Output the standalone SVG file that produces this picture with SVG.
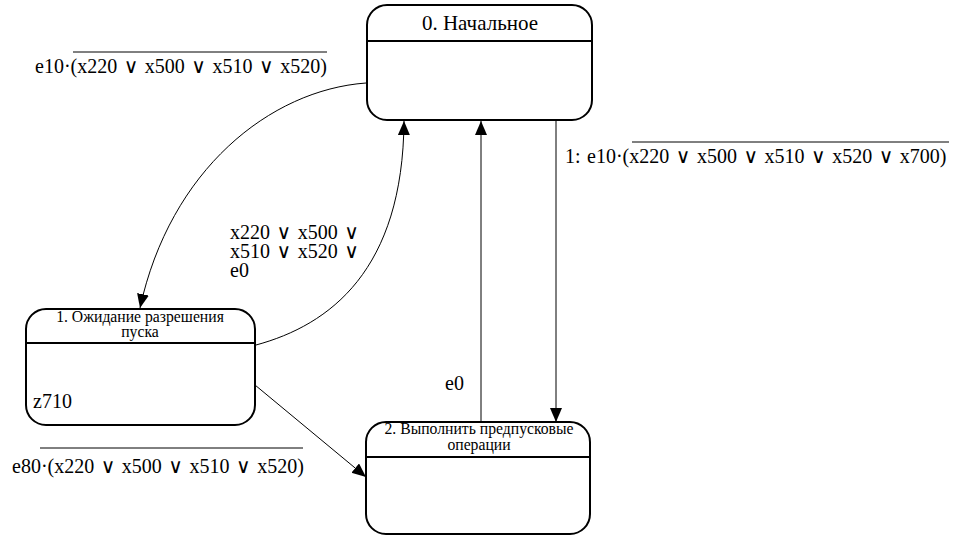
<svg xmlns="http://www.w3.org/2000/svg" width="957" height="536" viewBox="0 0 957 536">
  <defs>
    <marker id="arrow" markerUnits="userSpaceOnUse" markerWidth="15" markerHeight="13" refX="14" refY="6" orient="auto">
      <path d="M0,0 L14,6 L0,12 z" fill="#000"/>
    </marker>
    <style>
      .state { fill: #fff; stroke: #000; stroke-width: 2; }
      .divider { stroke: #000; stroke-width: 2; }
      text { font-family: "Liberation Serif", "Times New Roman", serif; fill: #000; }
      .title { font-size: 21px; text-anchor: middle; }
      .small { font-size: 15.7px; text-anchor: middle; }
      .label { font-size: 20px; word-spacing: 1.5px; }
      .or { font-family: "DejaVu Serif", serif; font-size: 20px; }
      .edge { fill: none; stroke: #000; stroke-width: 1; marker-end: url(#arrow); }
      .bar { stroke: #000; stroke-width: 1; }
    </style>
  </defs>

  <rect width="957" height="536" fill="#fff"/>

  <!-- transitions -->
  <g id="connectors">
    <path class="edge" d="M366,83 C270,90 170,170 140,308"/>
    <path class="edge" d="M256,345 C330,325 403,270 404,121"/>
    <path class="edge" d="M481,422 L481,121"/>
    <path class="edge" d="M556,121 L556,422"/>
    <path class="edge" d="M255,385 L366,477"/>

    <text class="label" x="35" y="73">e10·(x220 <tspan class="or">∨</tspan> x500 <tspan class="or">∨</tspan> x510 <tspan class="or">∨</tspan> x520)</text>
    <line class="bar" x1="73" y1="52" x2="327" y2="52"/>

    <text class="label" x="565" y="163">1: e10·(x220 <tspan class="or">∨</tspan> x500 <tspan class="or">∨</tspan> x510 <tspan class="or">∨</tspan> x520 <tspan class="or">∨</tspan> x700)</text>
    <line class="bar" x1="632" y1="142" x2="949" y2="142"/>

    <text class="label" x="230" y="239">x220 <tspan class="or">∨</tspan> x500 <tspan class="or">∨</tspan></text>
    <text class="label" x="230" y="258">x510 <tspan class="or">∨</tspan> x520 <tspan class="or">∨</tspan></text>
    <text class="label" x="230" y="277">e0</text>

    <text class="label" x="445" y="390">e0</text>

    <text class="label" x="12" y="473">e80·(x220 <tspan class="or">∨</tspan> x500 <tspan class="or">∨</tspan> x510 <tspan class="or">∨</tspan> x520)</text>
    <line class="bar" x1="40" y1="448" x2="303" y2="448"/>
  </g>

  <!-- state 0 -->
  <g id="state0">
    <rect class="state" x="367" y="5" width="225" height="115" rx="20" ry="20"/>
    <line class="divider" x1="367" y1="41" x2="592" y2="41"/>
    <text class="title" x="480" y="30">0. Начальное</text>
  </g>

  <!-- state 1 -->
  <g id="state1">
    <rect class="state" x="26" y="309" width="229" height="116" rx="20" ry="20"/>
    <line class="divider" x1="26" y1="343" x2="255" y2="343"/>
    <text class="small" x="140" y="322">1. Ожидание разрешения</text>
    <text class="small" x="140" y="337">пуска</text>
    <text class="label" x="33" y="408">z710</text>
  </g>

  <!-- state 2 -->
  <g id="state2">
    <rect class="state" x="366" y="422" width="224" height="112" rx="20" ry="20"/>
    <line class="divider" x1="366" y1="457" x2="590" y2="457"/>
    <text class="small" x="479" y="434">2. Выполнить предпусковые</text>
    <text class="small" x="479" y="450">операции</text>
  </g>
</svg>
